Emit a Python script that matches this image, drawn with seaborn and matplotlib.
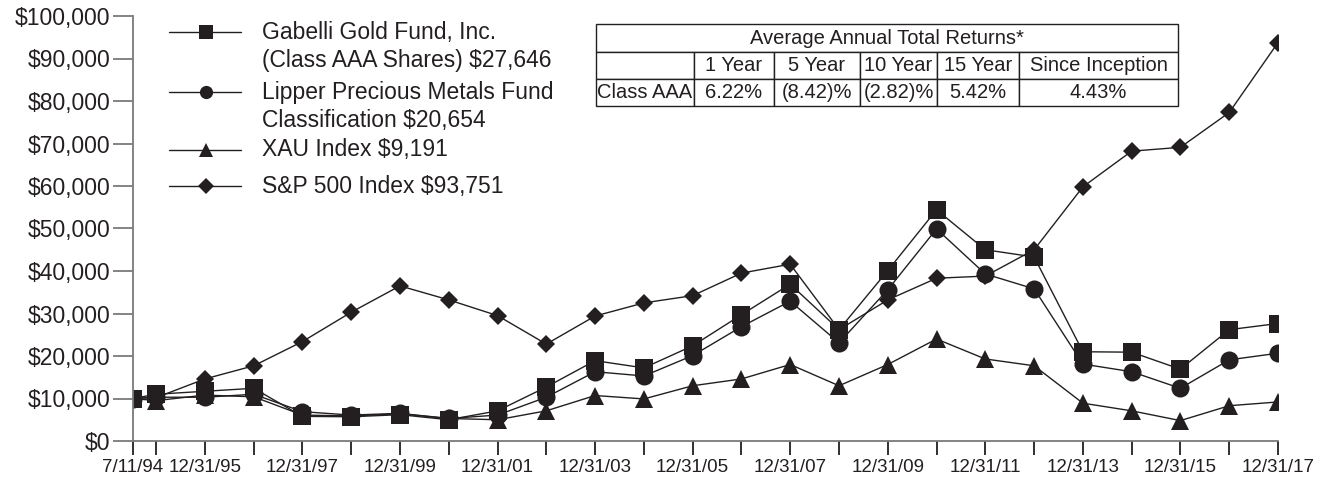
import pandas as pd
import matplotlib as mpl
import matplotlib.pyplot as plt
import seaborn as sns

# period ends (first point is the fund inception)
dates = ["7/11/94", "12/31/94", "12/31/95", "12/31/96", "12/31/97", "12/31/98", "12/31/99",
         "12/31/00", "12/31/01", "12/31/02", "12/31/03", "12/31/04", "12/31/05", "12/31/06",
         "12/31/07", "12/31/08", "12/31/09", "12/31/10", "12/31/11", "12/31/12", "12/31/13",
         "12/31/14", "12/31/15", "12/31/16", "12/31/17"]

gabelli = [10000, 11000, 11700, 12400, 5800, 5700, 6200, 5000, 7100, 12700, 18900, 17200,
           22400, 29700, 36900, 26200, 40100, 54400, 45000, 43300, 21000, 20900, 16900, 26200, 27646]
lipper = [10000, 10300, 10300, 11000, 6900, 6100, 6500, 5300, 6100, 10300, 16300, 15300,
          20100, 26900, 32900, 23100, 35600, 49900, 39300, 35800, 18100, 16300, 12400, 19100, 20654]
xau = [10000, 9500, 10800, 10400, 6100, 5900, 6400, 5300, 5000, 7100, 10700, 9900,
       13000, 14600, 18000, 13000, 18000, 24000, 19300, 17700, 8900, 7100, 4800, 8300, 9191]
sp500 = [10000, 10200, 14600, 17700, 23400, 30300, 36500, 33200, 29500, 22800, 29400, 32500,
         34200, 39500, 41600, 26200, 33200, 38300, 38800, 45000, 59800, 68200, 69100, 77300, 93751]

series_names = ["Gabelli", "Lipper", "XAU", "S&P 500"]
legend_text = [["Gabelli Gold Fund, Inc.", "(Class AAA Shares) $27,646"],
               ["Lipper Precious Metals Fund", "Classification $20,654"],
               ["XAU Index $9,191"],
               ["S&P 500 Index $93,751"]]

yticks = list(range(0, 100001, 10000))

table_title = "Average Annual Total Returns*"
table_header = ["", "1 Year", "5 Year", "10 Year", "15 Year", "Since Inception"]
table_row = ["Class AAA", "6.22%", "(8.42)%", "(2.82)%", "5.42%", "4.43%"]

ink = "#231f20"
markers = {"Gabelli": "s", "Lipper": "o", "XAU": "^", "S&P 500": "D"}
msize = {"Gabelli": 13, "Lipper": 13, "XAU": 13.5, "S&P 500": 9.5}

sns.set_style("white")
plt.rcParams["font.family"] = ["Liberation Sans", "DejaVu Sans"]
plt.rcParams["text.color"] = ink

x = pd.to_datetime(dates, format="%m/%d/%y")
df = pd.DataFrame({"Date": list(x) * 4,
                   "Value": gabelli + lipper + xau + sp500,
                   "Series": [s for s in series_names for _ in dates]})

fig = plt.figure(figsize = (13.27, 4.87), dpi = 100)
ax = fig.add_axes([133 / 1327, 1 - 441 / 487, 1145 / 1327, 425 / 487])

for s in series_names:
    sns.lineplot(data = df[df["Series"] == s], x = "Date", y = "Value", color = ink,
                 marker = markers[s], markersize = msize[s], markeredgewidth = 0,
                 linewidth = 1, legend = False, ax = ax)

ax.set_xlim(x[0], x[-1])
ax.set_ylim(0, 100000)
ax.set_xlabel("")
ax.set_ylabel("")

ax.set_yticks(yticks)
ax.set_yticklabels(["$" + format(v, ",") for v in yticks], fontsize = 16.5, color = ink)
ax.set_xticks(x)
# label the inception date and every other year end
ax.set_xticklabels([d if i % 2 == 0 else "" for i, d in enumerate(dates)],
                   fontsize = 13.5, color = ink)

for side in ["top", "right"]:
    ax.spines[side].set_visible(False)
for side in ["left", "bottom"]:
    ax.spines[side].set_color("#7a7a7a")
    ax.spines[side].set_linewidth(1.3)
ax.tick_params(axis = "y", length = 14.5, width = 1.3, color = "#7a7a7a", pad = 2, left = True)
ax.tick_params(axis = "x", length = 10, width = 1.3, color = ink, pad = 3, bottom = True)

# legend drawn by hand so the handle sits on the first line of each label
handle_y = [0.962, 0.821, 0.685, 0.600]
line_gap = 0.066
for s, y, lines in zip(series_names, handle_y, legend_text):
    ax.plot([0.0314, 0.0638, 0.0943], [y, y, y], transform = ax.transAxes, clip_on = False,
            color = ink, linewidth = 1, marker = markers[s], markevery = [1],
            markersize = 9.5 if s != "S&P 500" else 8, markeredgewidth = 0)
    for k, t in enumerate(lines):
        ax.text(0.113, y - k * line_gap, t, transform = ax.transAxes, fontsize = 16.5,
                va = "center", ha = "left", color = ink)

# returns table
x0, x1 = (596 - 133) / 1145, (1178 - 133) / 1145
y_top, y_mid, y_bot = (441 - 24) / 425, (441 - 52) / 425, (441 - 106) / 425
t1 = ax.table(cellText = [[table_title]], cellLoc = "center",
              bbox = [x0, y_mid, x1 - x0, y_top - y_mid])
t2 = ax.table(cellText = [table_header, table_row], cellLoc = "center",
              colWidths = [98, 80, 86, 77, 82, 159],
              bbox = [x0, y_bot, x1 - x0, y_mid - y_bot])
for t in (t1, t2):
    t.auto_set_font_size(False)
    t.set_fontsize(14.5)
    for cell in t.get_celld().values():
        cell.set_edgecolor(ink)
        cell.set_linewidth(1)
        cell.get_text().set_color(ink)
        cell.PAD = 0.02

fig.savefig("out.png", dpi = 100)
